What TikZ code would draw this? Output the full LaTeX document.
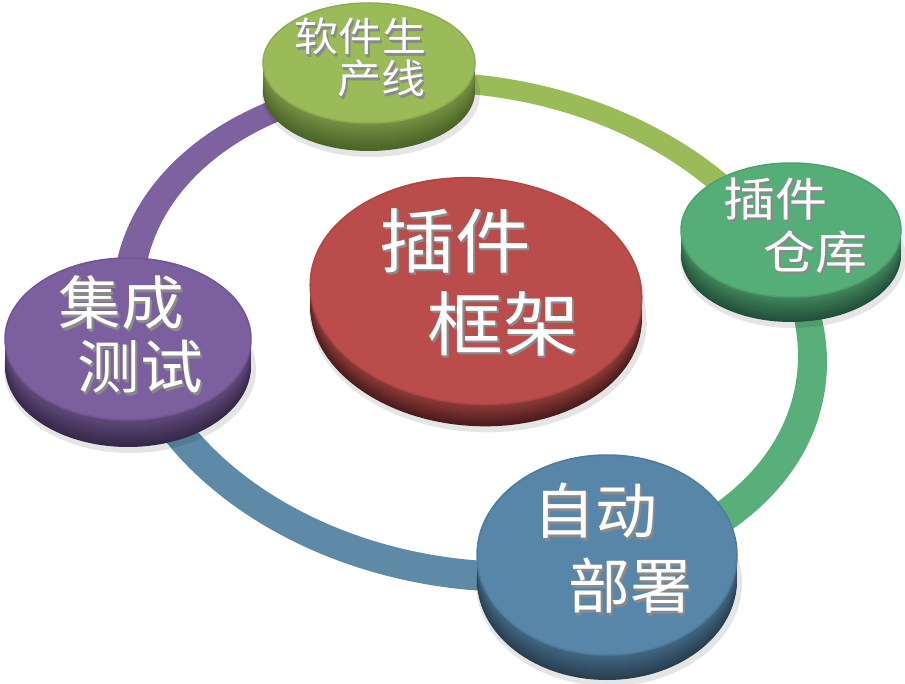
\documentclass[tikz,border=0pt]{standalone}
\usepackage{fontspec}
\newfontfamily\cjk{Noto Sans CJK SC}
\usetikzlibrary{shapes.geometric,calc}
\definecolor{cOlive}{HTML}{9BBB59}
\definecolor{cOliveD}{HTML}{4A6526}
\definecolor{cGreen}{HTML}{55AE78}
\definecolor{cGreenR}{HTML}{58AF79}
\definecolor{cGreenD}{HTML}{21503A}
\definecolor{cBlue}{HTML}{5786A8}
\definecolor{cBlueR}{HTML}{5E8AA8}
\definecolor{cBlueD}{HTML}{283F52}
\definecolor{cPurple}{HTML}{7C5F9F}
\definecolor{cPurpleR}{HTML}{7D629F}
\definecolor{cPurpleD}{HTML}{36284A}
\definecolor{cRed}{HTML}{BA4D4B}
\definecolor{cRedD}{HTML}{4B1C1B}
\definecolor{cShade}{HTML}{8A8A8A}
\tikzset{
  face/.style={ellipse, inner sep=0pt, draw=none},
  lbl/.style={font=\cjk\fontsize{#1}{#1}\selectfont, inner sep=0pt, text=white},
}
% disc: cx cy rx ry rot thick face side name
\newcommand\mydisc[9]{%
  \node[face, fill=black, opacity=0.10, minimum width=2*#3+6, minimum height=2*#4+6, rotate=#5]
    at (#1+2,#2+#6+3) {};
  \foreach \i in {0,...,14}{%
    \pgfmathsetmacro\off{#6*(1-\i/14)}%
    \pgfmathsetmacro\mix{100*\i/14}%
    \node[face, fill=#7!78!black!\mix!#8, minimum width=2*#3, minimum height=2*#4, rotate=#5]
      at (#1,#2+\off) {};
  }%
  \node[face, fill=#7, draw=#7!92!black, line width=1.5pt, minimum width=2*#3, minimum height=2*#4, rotate=#5]
    (#9) at (#1,#2) {};
}
% one layer of grey extrusion
\newcommand\shl[2]{\rlap{\kern#1pt\raisebox{-#1pt}{\color{cShade}#2}}}
% text with grey extrusion: x y size xscale text name
\newcommand\mytext[6]{%
  \node[lbl=#3, xscale=#4] (#6) at (#1,#2)
    {\shl{2.4}{#5}\shl{1.8}{#5}\shl{1.2}{#5}\shl{0.6}{#5}#5};
}
% ring sector: colour a1 a2
\newcommand\ringpart[3]{%
  \begin{scope}
    \clip (470,330) -- ($(470,330)+(#2:900)$) -- ($(470,330)+({(#2+#3)/2}:900)$) -- ($(470,330)+(#3:900)$) -- cycle;
    \begin{scope}[rotate around={-10:(470,330)}]
      \fill[#1, even odd rule] (470,332) ellipse [x radius=360, y radius=256]
                               (470,327) ellipse [x radius=330, y radius=231];
    \end{scope}
  \end{scope}
}
\begin{document}
\begin{tikzpicture}[x=1pt,y=-1pt]
\useasboundingbox (0,0) rectangle (905,684);
% ring
\ringpart{cOlive}{-111}{-17}
\ringpart{cGreenR}{-17}{59}
\ringpart{cBlueR}{59}{179}
\ringpart{cPurpleR}{179}{249}
% discs
\mydisc{369}{63}{106}{60}{0}{28}{cOlive}{cOliveD}{dTop}
\mydisc{791}{230}{110}{67}{0}{25}{cGreen}{cGreenD}{dRight}
\mydisc{128}{339}{123}{81}{0}{27}{cPurple}{cPurpleD}{dLeft}
\mydisc{476}{291}{166}{113}{-4}{22}{cRed}{cRedD}{dCenter}
\mydisc{607}{555}{130}{100}{0}{25}{cBlue}{cBlueD}{dBottom}
% labels
\mytext{360}{38}{40}{1.1}{软件生}{tTopA}
\mytext{381}{80}{40}{1.1}{产线}{tTopB}
\mytext{455}{242}{70}{1.08}{插件}{tCenA}
\mytext{503}{325}{70}{1.08}{框架}{tCenB}
\mytext{121}{304}{58}{1.08}{集成}{tLeftA}
\mytext{140}{368}{58}{1.08}{测试}{tLeftB}
\mytext{775}{200}{46}{1.13}{插件}{tRightA}
\mytext{815}{253}{46}{1.13}{仓库}{tRightB}
\mytext{595}{512}{60}{1.03}{自动}{tBotA}
\mytext{630}{587}{60}{1.03}{部署}{tBotB}
\end{tikzpicture}
\end{document}
